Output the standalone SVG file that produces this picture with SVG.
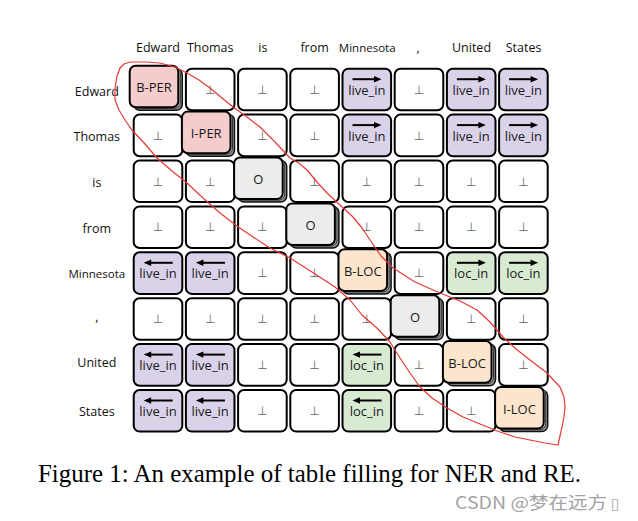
<svg xmlns="http://www.w3.org/2000/svg" xmlns:xlink="http://www.w3.org/1999/xlink" width="638" height="521" viewBox="0 0 638 521">
<style>
.bg{fill:#fff}
.cell{stroke:#000;stroke-width:2}
.w{fill:#fff}.per{fill:#f4cccc}.rel{fill:#d9d2e9}.loc{fill:#d9ead3}.ent{fill:#fce5cd}.o{fill:#ececec}
.sh1{fill:#8c8c8c;stroke:#111;stroke-width:1.5}
.sh2{fill:#c9c9c9;stroke:#333;stroke-width:1}
.t{font-family:"Open Sans","Noto Sans",sans-serif;font-size:13px;fill:#1a1a1a;text-anchor:middle}
.bot{font-family:"DejaVu Sans",sans-serif;font-size:12px;fill:#666;text-anchor:middle}
.lbl{font-family:"Open Sans","Noto Sans",sans-serif;font-size:12.5px;fill:#111;text-anchor:middle}
.sm{font-size:11.5px}
.cap{font-family:"Liberation Serif","Times New Roman",serif;font-size:25.5px;fill:#000}
.wm{font-family:"Noto Sans CJK SC",sans-serif;font-size:17px;fill:#a3a3a3}
.ar{stroke:#000;stroke-width:2;fill:none}
.red{fill:none;stroke:#e53a32;stroke-width:1.2;stroke-linejoin:round;stroke-linecap:round}
</style>
<defs>
<g id="ra"><line class="ar" x1="11" y1="11.5" x2="34" y2="11.5"/><polygon points="40,11.5 32.5,8.3 32.5,14.7" fill="#000"/></g>
<g id="la"><line class="ar" x1="17" y1="11.5" x2="40" y2="11.5"/><polygon points="11,11.5 18.5,8.3 18.5,14.7" fill="#000"/></g>
<g id="stack"><rect class="sh1" x="1" y="1" width="48.6" height="41.6" rx="6"/><rect class="sh2" x="-1" y="-1" width="48.6" height="41.6" rx="6"/></g>
</defs>
<rect class="bg" x="0" y="0" width="638" height="521"/>

<g id="col-labels">
<text class="lbl" x="158" y="52">Edward</text>
<text class="lbl" x="210.2" y="52">Thomas</text>
<text class="lbl" x="262.8" y="52">is</text>
<text class="lbl" x="314.6" y="52">from</text>
<text class="lbl sm" x="367.2" y="52">Minnesota</text>
<text class="lbl" x="418" y="52">,</text>
<text class="lbl" x="471.5" y="52">United</text>
<text class="lbl" x="523.6" y="52">States</text>
</g>
<g id="row-labels">
<text class="lbl" x="96.8" y="95.5">Edward</text>
<text class="lbl" x="96.8" y="141">Thomas</text>
<text class="lbl" x="96.8" y="187">is</text>
<text class="lbl" x="96.8" y="233">from</text>
<text class="lbl sm" x="96.8" y="277.7">Minnesota</text>
<text class="lbl" x="96.8" y="321">,</text>
<text class="lbl" x="96.8" y="367">United</text>
<text class="lbl" x="96.8" y="415.7">States</text>
</g>

<g id="cells">
<g id="c-0-1" transform="translate(184.9,67.7)"><rect class="cell w" x="1" y="1" width="48.6" height="41.6" rx="6"/><text class="bot" x="25.3" y="26">⊥</text></g>
<g id="c-0-2" transform="translate(237.1,67.7)"><rect class="cell w" x="1" y="1" width="48.6" height="41.6" rx="6"/><text class="bot" x="25.3" y="26">⊥</text></g>
<g id="c-0-3" transform="translate(289.3,67.7)"><rect class="cell w" x="1" y="1" width="48.6" height="41.6" rx="6"/><text class="bot" x="25.3" y="26">⊥</text></g>
<g id="c-0-4" transform="translate(341.5,67.7)"><rect class="cell rel" x="1" y="1" width="48.6" height="41.6" rx="6"/><use xlink:href="#ra"/><text class="t" x="25.3" y="27">live_in</text></g>
<g id="c-0-5" transform="translate(393.7,67.7)"><rect class="cell w" x="1" y="1" width="48.6" height="41.6" rx="6"/><text class="bot" x="25.3" y="26">⊥</text></g>
<g id="c-0-6" transform="translate(445.9,67.7)"><rect class="cell rel" x="1" y="1" width="48.6" height="41.6" rx="6"/><use xlink:href="#ra"/><text class="t" x="25.3" y="27">live_in</text></g>
<g id="c-0-7" transform="translate(498.1,67.7)"><rect class="cell rel" x="1" y="1" width="48.6" height="41.6" rx="6"/><use xlink:href="#ra"/><text class="t" x="25.3" y="27">live_in</text></g>
<g id="c-1-0" transform="translate(132.7,113.6)"><rect class="cell w" x="1" y="1" width="48.6" height="41.6" rx="6"/><text class="bot" x="25.3" y="26">⊥</text></g>
<g id="c-1-2" transform="translate(237.1,113.6)"><rect class="cell w" x="1" y="1" width="48.6" height="41.6" rx="6"/><text class="bot" x="25.3" y="26">⊥</text></g>
<g id="c-1-3" transform="translate(289.3,113.6)"><rect class="cell w" x="1" y="1" width="48.6" height="41.6" rx="6"/><text class="bot" x="25.3" y="26">⊥</text></g>
<g id="c-1-4" transform="translate(341.5,113.6)"><rect class="cell rel" x="1" y="1" width="48.6" height="41.6" rx="6"/><use xlink:href="#ra"/><text class="t" x="25.3" y="27">live_in</text></g>
<g id="c-1-5" transform="translate(393.7,113.6)"><rect class="cell w" x="1" y="1" width="48.6" height="41.6" rx="6"/><text class="bot" x="25.3" y="26">⊥</text></g>
<g id="c-1-6" transform="translate(445.9,113.6)"><rect class="cell rel" x="1" y="1" width="48.6" height="41.6" rx="6"/><use xlink:href="#ra"/><text class="t" x="25.3" y="27">live_in</text></g>
<g id="c-1-7" transform="translate(498.1,113.6)"><rect class="cell rel" x="1" y="1" width="48.6" height="41.6" rx="6"/><use xlink:href="#ra"/><text class="t" x="25.3" y="27">live_in</text></g>
<g id="c-2-0" transform="translate(132.7,159.5)"><rect class="cell w" x="1" y="1" width="48.6" height="41.6" rx="6"/><text class="bot" x="25.3" y="26">⊥</text></g>
<g id="c-2-1" transform="translate(184.9,159.5)"><rect class="cell w" x="1" y="1" width="48.6" height="41.6" rx="6"/><text class="bot" x="25.3" y="26">⊥</text></g>
<g id="c-2-3" transform="translate(289.3,159.5)"><rect class="cell w" x="1" y="1" width="48.6" height="41.6" rx="6"/><text class="bot" x="25.3" y="26">⊥</text></g>
<g id="c-2-4" transform="translate(341.5,159.5)"><rect class="cell w" x="1" y="1" width="48.6" height="41.6" rx="6"/><text class="bot" x="25.3" y="26">⊥</text></g>
<g id="c-2-5" transform="translate(393.7,159.5)"><rect class="cell w" x="1" y="1" width="48.6" height="41.6" rx="6"/><text class="bot" x="25.3" y="26">⊥</text></g>
<g id="c-2-6" transform="translate(445.9,159.5)"><rect class="cell w" x="1" y="1" width="48.6" height="41.6" rx="6"/><text class="bot" x="25.3" y="26">⊥</text></g>
<g id="c-2-7" transform="translate(498.1,159.5)"><rect class="cell w" x="1" y="1" width="48.6" height="41.6" rx="6"/><text class="bot" x="25.3" y="26">⊥</text></g>
<g id="c-3-0" transform="translate(132.7,205.4)"><rect class="cell w" x="1" y="1" width="48.6" height="41.6" rx="6"/><text class="bot" x="25.3" y="26">⊥</text></g>
<g id="c-3-1" transform="translate(184.9,205.4)"><rect class="cell w" x="1" y="1" width="48.6" height="41.6" rx="6"/><text class="bot" x="25.3" y="26">⊥</text></g>
<g id="c-3-2" transform="translate(237.1,205.4)"><rect class="cell w" x="1" y="1" width="48.6" height="41.6" rx="6"/><text class="bot" x="25.3" y="26">⊥</text></g>
<g id="c-3-4" transform="translate(341.5,205.4)"><rect class="cell w" x="1" y="1" width="48.6" height="41.6" rx="6"/><text class="bot" x="25.3" y="26">⊥</text></g>
<g id="c-3-5" transform="translate(393.7,205.4)"><rect class="cell w" x="1" y="1" width="48.6" height="41.6" rx="6"/><text class="bot" x="25.3" y="26">⊥</text></g>
<g id="c-3-6" transform="translate(445.9,205.4)"><rect class="cell w" x="1" y="1" width="48.6" height="41.6" rx="6"/><text class="bot" x="25.3" y="26">⊥</text></g>
<g id="c-3-7" transform="translate(498.1,205.4)"><rect class="cell w" x="1" y="1" width="48.6" height="41.6" rx="6"/><text class="bot" x="25.3" y="26">⊥</text></g>
<g id="c-4-0" transform="translate(132.7,251.3)"><rect class="cell rel" x="1" y="1" width="48.6" height="41.6" rx="6"/><use xlink:href="#la"/><text class="t" x="25.3" y="27">live_in</text></g>
<g id="c-4-1" transform="translate(184.9,251.3)"><rect class="cell rel" x="1" y="1" width="48.6" height="41.6" rx="6"/><use xlink:href="#la"/><text class="t" x="25.3" y="27">live_in</text></g>
<g id="c-4-2" transform="translate(237.1,251.3)"><rect class="cell w" x="1" y="1" width="48.6" height="41.6" rx="6"/><text class="bot" x="25.3" y="26">⊥</text></g>
<g id="c-4-3" transform="translate(289.3,251.3)"><rect class="cell w" x="1" y="1" width="48.6" height="41.6" rx="6"/><text class="bot" x="25.3" y="26">⊥</text></g>
<g id="c-4-5" transform="translate(393.7,251.3)"><rect class="cell w" x="1" y="1" width="48.6" height="41.6" rx="6"/><text class="bot" x="25.3" y="26">⊥</text></g>
<g id="c-4-6" transform="translate(445.9,251.3)"><rect class="cell loc" x="1" y="1" width="48.6" height="41.6" rx="6"/><use xlink:href="#ra"/><text class="t" x="25.3" y="27">loc_in</text></g>
<g id="c-4-7" transform="translate(498.1,251.3)"><rect class="cell loc" x="1" y="1" width="48.6" height="41.6" rx="6"/><use xlink:href="#ra"/><text class="t" x="25.3" y="27">loc_in</text></g>
<g id="c-5-0" transform="translate(132.7,297.2)"><rect class="cell w" x="1" y="1" width="48.6" height="41.6" rx="6"/><text class="bot" x="25.3" y="26">⊥</text></g>
<g id="c-5-1" transform="translate(184.9,297.2)"><rect class="cell w" x="1" y="1" width="48.6" height="41.6" rx="6"/><text class="bot" x="25.3" y="26">⊥</text></g>
<g id="c-5-2" transform="translate(237.1,297.2)"><rect class="cell w" x="1" y="1" width="48.6" height="41.6" rx="6"/><text class="bot" x="25.3" y="26">⊥</text></g>
<g id="c-5-3" transform="translate(289.3,297.2)"><rect class="cell w" x="1" y="1" width="48.6" height="41.6" rx="6"/><text class="bot" x="25.3" y="26">⊥</text></g>
<g id="c-5-4" transform="translate(341.5,297.2)"><rect class="cell w" x="1" y="1" width="48.6" height="41.6" rx="6"/><text class="bot" x="25.3" y="26">⊥</text></g>
<g id="c-5-6" transform="translate(445.9,297.2)"><rect class="cell w" x="1" y="1" width="48.6" height="41.6" rx="6"/><text class="bot" x="25.3" y="26">⊥</text></g>
<g id="c-5-7" transform="translate(498.1,297.2)"><rect class="cell w" x="1" y="1" width="48.6" height="41.6" rx="6"/><text class="bot" x="25.3" y="26">⊥</text></g>
<g id="c-6-0" transform="translate(132.7,343.1)"><rect class="cell rel" x="1" y="1" width="48.6" height="41.6" rx="6"/><use xlink:href="#la"/><text class="t" x="25.3" y="27">live_in</text></g>
<g id="c-6-1" transform="translate(184.9,343.1)"><rect class="cell rel" x="1" y="1" width="48.6" height="41.6" rx="6"/><use xlink:href="#la"/><text class="t" x="25.3" y="27">live_in</text></g>
<g id="c-6-2" transform="translate(237.1,343.1)"><rect class="cell w" x="1" y="1" width="48.6" height="41.6" rx="6"/><text class="bot" x="25.3" y="26">⊥</text></g>
<g id="c-6-3" transform="translate(289.3,343.1)"><rect class="cell w" x="1" y="1" width="48.6" height="41.6" rx="6"/><text class="bot" x="25.3" y="26">⊥</text></g>
<g id="c-6-4" transform="translate(341.5,343.1)"><rect class="cell loc" x="1" y="1" width="48.6" height="41.6" rx="6"/><use xlink:href="#la"/><text class="t" x="25.3" y="27">loc_in</text></g>
<g id="c-6-5" transform="translate(393.7,343.1)"><rect class="cell w" x="1" y="1" width="48.6" height="41.6" rx="6"/><text class="bot" x="25.3" y="26">⊥</text></g>
<g id="c-6-7" transform="translate(498.1,343.1)"><rect class="cell w" x="1" y="1" width="48.6" height="41.6" rx="6"/><text class="bot" x="25.3" y="26">⊥</text></g>
<g id="c-7-0" transform="translate(132.7,389)"><rect class="cell rel" x="1" y="1" width="48.6" height="41.6" rx="6"/><use xlink:href="#la"/><text class="t" x="25.3" y="27">live_in</text></g>
<g id="c-7-1" transform="translate(184.9,389)"><rect class="cell rel" x="1" y="1" width="48.6" height="41.6" rx="6"/><use xlink:href="#la"/><text class="t" x="25.3" y="27">live_in</text></g>
<g id="c-7-2" transform="translate(237.1,389)"><rect class="cell w" x="1" y="1" width="48.6" height="41.6" rx="6"/><text class="bot" x="25.3" y="26">⊥</text></g>
<g id="c-7-3" transform="translate(289.3,389)"><rect class="cell w" x="1" y="1" width="48.6" height="41.6" rx="6"/><text class="bot" x="25.3" y="26">⊥</text></g>
<g id="c-7-4" transform="translate(341.5,389)"><rect class="cell loc" x="1" y="1" width="48.6" height="41.6" rx="6"/><use xlink:href="#la"/><text class="t" x="25.3" y="27">loc_in</text></g>
<g id="c-7-5" transform="translate(393.7,389)"><rect class="cell w" x="1" y="1" width="48.6" height="41.6" rx="6"/><text class="bot" x="25.3" y="26">⊥</text></g>
<g id="c-7-6" transform="translate(445.9,389)"><rect class="cell w" x="1" y="1" width="48.6" height="41.6" rx="6"/><text class="bot" x="25.3" y="26">⊥</text></g>
<g id="c-0-0" transform="translate(132.7,67.7)"><use xlink:href="#stack"/><rect class="cell per" x="-3" y="-2" width="48.6" height="41.6" rx="6"/><text class="t" x="21.3" y="24.5">B-PER</text></g>
<g id="c-1-1" transform="translate(184.9,113.6)"><use xlink:href="#stack"/><rect class="cell per" x="-3" y="-2" width="48.6" height="41.6" rx="6"/><text class="t" x="21.3" y="24.5">I-PER</text></g>
<g id="c-2-2" transform="translate(237.1,159.5)"><use xlink:href="#stack"/><rect class="cell o" x="-3" y="-2" width="48.6" height="41.6" rx="6"/><text class="t" x="21.3" y="24.5">O</text></g>
<g id="c-3-3" transform="translate(289.3,205.4)"><use xlink:href="#stack"/><rect class="cell o" x="-3" y="-2" width="48.6" height="41.6" rx="6"/><text class="t" x="21.3" y="24.5">O</text></g>
<g id="c-4-4" transform="translate(341.5,251.3)"><use xlink:href="#stack"/><rect class="cell ent" x="-3" y="-2" width="48.6" height="41.6" rx="6"/><text class="t" x="21.3" y="24.5">B-LOC</text></g>
<g id="c-5-5" transform="translate(393.7,297.2)"><use xlink:href="#stack"/><rect class="cell o" x="-3" y="-2" width="48.6" height="41.6" rx="6"/><text class="t" x="21.3" y="24.5">O</text></g>
<g id="c-6-6" transform="translate(445.9,343.1)"><use xlink:href="#stack"/><rect class="cell ent" x="-3" y="-2" width="48.6" height="41.6" rx="6"/><text class="t" x="21.3" y="24.5">B-LOC</text></g>
<g id="c-7-7" transform="translate(498.1,389)"><use xlink:href="#stack"/><rect class="cell ent" x="-3" y="-2" width="48.6" height="41.6" rx="6"/><text class="t" x="21.3" y="24.5">I-LOC</text></g>
</g>

<g id="connectors"></g>

<g id="annotation">
<path class="red" d="M120 68 L117 76 L115 88 L115 100 L119 110 L125 120 L132 130 L145 144 L157 158 L172 171 L187 183 L203 198 L220 213 L237 226 L253 237 L270 248 L290 258 L312 272 L335 287 L350 300 L362 315 L377 328 L390 342 L400 358 L410 373 L420 387 L432 398 L447 408 L463 417 L480 424 L500 432 L515 437 L530 440 L545 443 L558 445"/>
<path class="red" d="M120 68 L124 64 L130 62 L145 62 L160 63 L175 67 L187 73 L199 80 L210 88 L222 98 L233 107 L247 117 L260 127 L275 142 L290 158 L300 164 L307 170 L317 182 L327 193 L340 205 L353 217 L362 228 L370 240 L381 256 L393 268 L415 282 L440 293 L460 301 L477 310 L490 322 L503 337 L516 349 L530 360 L547 373 L560 387 L564 397 L565 407 L564 417 L562 427 L560 436 L558 445"/>
</g>

<g id="caption">
<text class="cap" x="38" y="482" textLength="543" lengthAdjust="spacingAndGlyphs">Figure 1: An example of table filling for NER and RE.</text>
</g>
<g id="watermark">
<text class="wm" x="455" y="509"><tspan textLength="152" lengthAdjust="spacingAndGlyphs">CSDN @梦在远方</tspan><tspan x="611" font-family="DejaVu Sans" font-size="15">▯</tspan></text>
</g>
</svg>
